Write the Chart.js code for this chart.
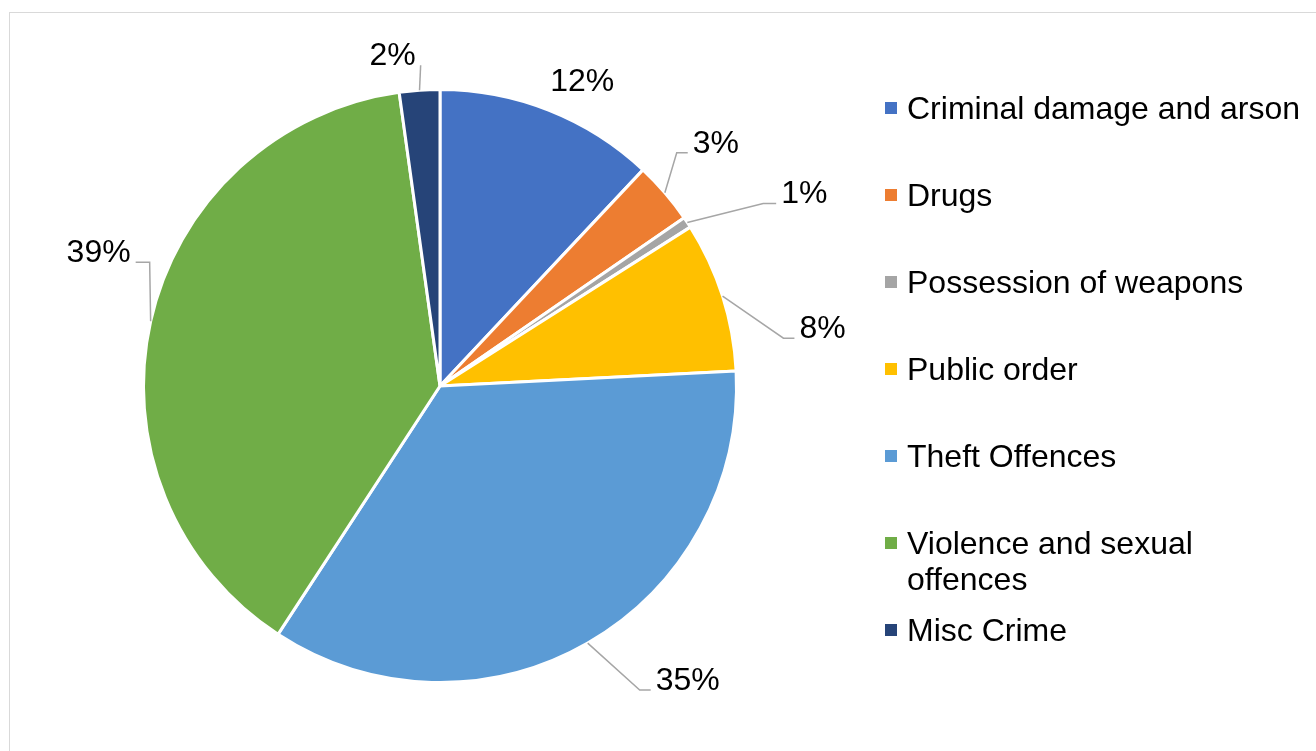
<!DOCTYPE html>
<html>
<head>
<meta charset="utf-8">
<script src="https://cdn.jsdelivr.net/npm/chart.js@4.4.0/dist/chart.umd.min.js"></script>
<style>
  html, body { margin: 0; padding: 0; background: #fff; overflow: hidden; }
  #wrap { position: relative; width: 1316px; height: 751px; }
  #frame { position: absolute; left: 9px; top: 12px; width: 1400px; height: 900px;
           border-left: 1px solid #d9d9d9; border-top: 1px solid #d9d9d9; }
  #chart { position: absolute; left: 0; top: 0; }
  #legend { position: absolute; left: 885px; top: 0;
            font-family: "Liberation Sans", Arial, sans-serif; font-size: 32px; color: #000; }
  .item { position: absolute; left: 0; width: 425px; display: flex; align-items: flex-start; line-height: 36px; }
  .sw { width: 12px; height: 12px; margin-top: 12px; margin-right: 10px; flex: none; }
</style>
</head>
<body>
<div id="wrap">
  <div id="frame"></div>
  <canvas id="chart" width="1316" height="751"></canvas>
  <div id="legend"></div>
</div>
<script>
// Offence categories, in drawing order (clockwise from 12 o'clock)
const categories = [
  "Criminal damage and arson",
  "Drugs",
  "Possession of weapons",
  "Public order",
  "Theft Offences",
  "Violence and sexual offences",
  "Misc Crime"
];

// Share of recorded offences, percent
const shares = [12.0, 3.4, 0.6, 8.2, 35.0, 38.6, 2.2];

const sliceColors = ["#4472C4", "#ED7D31", "#A5A5A5", "#FFC000", "#5B9BD5", "#70AD47", "#264478"];

// Label placement relative to each slice's outer mid-point; gap = leader elbow distance from text
const labelLayout = [
  { dx: 33,  dy: -31, gap: null },
  { dx: 51,  dy: -52, gap: 16 },
  { dx: 117, dy: -31, gap: 18 },
  { dx: 100, dy: 30,  gap: 16 },
  { dx: 100, dy: 35,  gap: 16 },
  { dx: -52, dy: -71, gap: 19 },
  { dx: -27, dy: -37, gap: 5 }
];

const FONT = '32px "Liberation Sans", Arial, sans-serif';

const sliceLabels = {
  id: "sliceLabels",
  afterDatasetsDraw(chart) {
    const ctx = chart.ctx;
    const meta = chart.getDatasetMeta(0);
    const total = shares.reduce((a, b) => a + b, 0);
    ctx.save();
    ctx.font = FONT;
    ctx.textAlign = "center";
    ctx.textBaseline = "alphabetic";
    meta.data.forEach((arc, i) => {
      const p = arc.getProps(["x", "y", "startAngle", "endAngle", "outerRadius"], true);
      const mid = (p.startAngle + p.endAngle) / 2;
      const ax = p.x + Math.cos(mid) * p.outerRadius;
      const ay = p.y + Math.sin(mid) * p.outerRadius;
      const L = labelLayout[i];
      const tx = ax + L.dx, ty = ay + L.dy;
      const baseline = ty + 12;
      const text = Math.round(shares[i] / total * 100) + "%";
      const w = ctx.measureText(text).width;
      if (L.gap !== null) {
        const right = L.dx > 0;
        const edge = right ? tx - w / 2 : tx + w / 2;
        const end = right ? edge - 5 : edge + 5;
        const elbow = right ? edge - L.gap : edge + L.gap;
        ctx.beginPath();
        ctx.moveTo(ax, ay);
        ctx.lineTo(elbow, baseline);
        ctx.lineTo(end, baseline);
        ctx.strokeStyle = "#a6a6a6";
        ctx.lineWidth = 1.5;
        ctx.stroke();
      }
      ctx.fillStyle = "#000";
      ctx.fillText(text, tx, baseline);
    });
    ctx.restore();
  }
};

new Chart(document.getElementById("chart"), {
  type: "pie",
  data: {
    labels: categories,
    datasets: [{
      data: shares,
      backgroundColor: sliceColors,
      borderColor: "#ffffff",
      borderWidth: 3
    }]
  },
  options: {
    responsive: false,
    animation: false,
    layout: { padding: { left: 142, right: 578, top: 88, bottom: 67 } },
    plugins: {
      legend: { display: false },
      tooltip: { enabled: false }
    }
  },
  plugins: [sliceLabels]
});

// Legend built from the same category and colour lists
const legend = document.getElementById("legend");
categories.forEach((name, i) => {
  const item = document.createElement("div");
  item.className = "item";
  item.style.top = (90 + i * 87) + "px";
  const sw = document.createElement("span");
  sw.className = "sw";
  sw.style.background = sliceColors[i];
  const label = document.createElement("span");
  label.textContent = name;
  item.appendChild(sw);
  item.appendChild(label);
  legend.appendChild(item);
});
</script>
</body>
</html>
